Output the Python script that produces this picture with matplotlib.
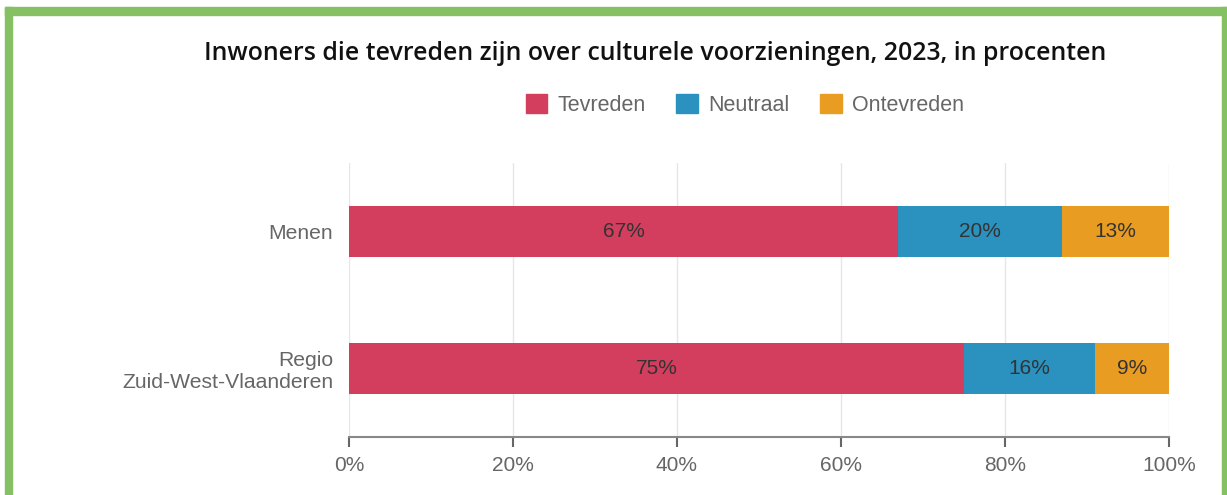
import matplotlib.pyplot as plt
from matplotlib.patches import Patch, Rectangle
import numpy as np

regions = ["Menen", "Regio\nZuid-West-Vlaanderen"]
series = ["Tevreden", "Neutraal", "Ontevreden"]
tevreden = [67, 75]
neutraal = [20, 16]
ontevreden = [13, 9]
xticks = [0, 20, 40, 60, 80, 100]

colors = ["#D43E5E", "#2B91BF", "#E89C22"]

plt.rcParams['font.family'] = ['Liberation Sans', 'DejaVu Sans']

fig = plt.figure(figsize=(12.27, 4.95), dpi=100)
ax = fig.add_axes([349 / 1227, 58 / 495, 820 / 1227, 274 / 495])

y = np.arange(len(regions))
left = np.zeros(len(regions))
for name, vals, c in zip(series, [tevreden, neutraal, ontevreden], colors):
    vals = np.array(vals)
    ax.barh(y, vals, left=left, height=0.365, color=c, zorder=3)
    for yi, l, v in zip(y, left, vals):
        ax.text(l + v / 2, yi, f"{v}%", ha='center', va='center',
                fontsize=15, color='#333333', zorder=4)
    left += vals

ax.set_xlim(0, 100)
ax.set_ylim(1.5, -0.5)
ax.set_xticks(xticks)
ax.set_xticklabels([f"{t}%" for t in xticks])
ax.set_yticks(y)
ax.set_yticklabels(regions)
ax.tick_params(axis='x', length=7.5, width=1.5, color='#666666',
               labelsize=15, labelcolor='#666666', pad=6)
ax.tick_params(axis='y', length=0, labelsize=15.2, labelcolor='#666666', pad=11.5)
ax.grid(axis='x', color='#e6e6e6', lw=1, zorder=0)
for s in ['top', 'right', 'left']:
    ax.spines[s].set_visible(False)
ax.spines['bottom'].set_color('#888888')
ax.spines['bottom'].set_linewidth(1.5)

fig.text(655 / 1227, 1 - 53 / 495,
         "Inwoners die tevreden zijn over culturele voorzieningen, 2023, in procenten",
         ha='center', va='center', fontsize=17.9, fontweight='semibold',
         family=['Open Sans', 'DejaVu Sans'], color='#111111')

handles = [Patch(color=c) for c in colors]
fig.legend(handles, series, loc='center', bbox_to_anchor=(745 / 1227, 1 - 105 / 495),
           ncol=3, frameon=False, fontsize=15.5, labelcolor='#666666',
           handlelength=1.0, handleheight=1.0, handletextpad=0.5, columnspacing=1.4)

# green frame
green = '#85C063'
fig.patches.append(Rectangle((5 / 1227, 0), 7 / 1227, 1 - 7 / 495,
                             transform=fig.transFigure, color=green))
fig.patches.append(Rectangle((5 / 1227, 1 - 15 / 495), 1222 / 1227, 8 / 495,
                             transform=fig.transFigure, color=green))
fig.patches.append(Rectangle((1222 / 1227, 0), 5 / 1227, 1 - 7 / 495,
                             transform=fig.transFigure, color=green))

fig.savefig("out.png", dpi=100)
